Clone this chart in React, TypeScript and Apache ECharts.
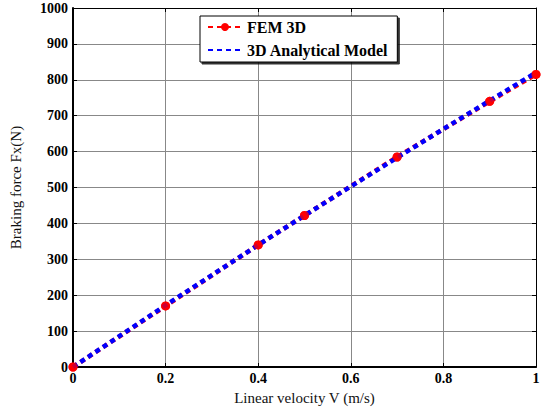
import React, { useEffect, useRef } from "react";
import * as echarts from "echarts";

const femX = [0, 0.2, 0.4, 0.5, 0.7, 0.9, 1.0];
const femY = [0, 170, 340, 422, 585, 740, 815];
const anaX = [0, 0.1, 0.2, 0.3, 0.4, 0.5, 0.6, 0.7, 0.8, 0.9, 1.0];
const anaY = [0, 86, 172, 256, 340, 422, 503, 583, 663, 742, 820];
const xTicks = [0, 0.2, 0.4, 0.6, 0.8, 1];
const seriesNames = ["FEM 3D", "3D Analytical Model"];

const FONT = "'Liberation Serif', 'Times New Roman', serif";

export default function App() {
  const ref = useRef<HTMLDivElement>(null);
  useEffect(() => {
    if (!ref.current) return;
    const chart = echarts.init(ref.current, null, { renderer: "svg" });
    const femData = femX.map((x, i) => [x, femY[i]]);
    const anaData = anaX.map((x, i) => [x, anaY[i]]);
    const labelStyle = { color: "#000", fontFamily: FONT, fontWeight: "bold" as const, fontSize: 14 };
    chart.setOption({
      animation: false,
      backgroundColor: "#fff",
      grid: { left: 71, right: 12, top: 8, bottom: 47, show: false },
      legend: {
        left: 200,
        top: 16,
        orient: "vertical",
        itemWidth: 34,
        itemHeight: 10,
        itemGap: 7,
        padding: [3, 9, 4, 7],
        borderColor: "#000",
        borderWidth: 1,
        backgroundColor: "#fff",
        shadowColor: "rgba(0,0,0,0.8)",
        shadowOffsetX: 2,
        shadowOffsetY: 2,
        shadowBlur: 0,
        textStyle: { color: "#000", fontFamily: FONT, fontWeight: "bold", fontSize: 16 },
        data: [
          { name: seriesNames[0] },
          { name: seriesNames[1], itemStyle: { opacity: 0 } },
        ],
      },
      xAxis: [
        {
          type: "value",
          min: 0,
          max: 1,
          interval: 0.2,
          name: "Linear velocity V (m/s)",
          nameLocation: "middle",
          nameGap: 23,
          nameTextStyle: { color: "#111", fontFamily: FONT, fontSize: 15 },
          axisLine: { show: true, lineStyle: { color: "#000", width: 2 } },
          axisTick: { show: true, inside: true, length: 4, lineStyle: { color: "#000" } },
          axisLabel: { ...labelStyle, margin: 4, formatter: (v: number) => String(xTicks.find((t) => Math.abs(t - v) < 1e-9) ?? v) },
          splitLine: { show: true, lineStyle: { color: "#888", width: 1 } },
        },
        {
          type: "value",
          position: "top",
          min: 0,
          max: 1,
          interval: 0.2,
          axisLine: { show: true, onZero: false, lineStyle: { color: "#000", width: 1 } },
          axisTick: { show: true, inside: true, length: 4, lineStyle: { color: "#000" } },
          axisLabel: { show: false },
          splitLine: { show: false },
        },
      ],
      yAxis: [
        {
          type: "value",
          min: 0,
          max: 1000,
          interval: 100,
          name: "Braking force Fx(N)",
          nameLocation: "middle",
          nameGap: 50,
          nameTextStyle: { color: "#111", fontFamily: FONT, fontSize: 15 },
          axisLine: { show: true, lineStyle: { color: "#000", width: 2 } },
          axisTick: { show: true, inside: true, length: 4, lineStyle: { color: "#000" } },
          axisLabel: { ...labelStyle, margin: 5, formatter: (v: number) => String(v) },
          splitLine: { show: true, lineStyle: { color: "#888", width: 1 } },
        },
        {
          type: "value",
          position: "right",
          min: 0,
          max: 1000,
          interval: 100,
          axisLine: { show: true, onZero: false, lineStyle: { color: "#000", width: 1 } },
          axisTick: { show: true, inside: true, length: 4, lineStyle: { color: "#000" } },
          axisLabel: { show: false },
          splitLine: { show: false },
        },
      ],
      series: [
        {
          name: seriesNames[0],
          type: "line",
          data: femData,
          z: 2,
          symbol: "circle",
          symbolSize: 9,
          itemStyle: { color: "#ff0000" },
          lineStyle: { color: "#ff0000", width: 4.5, type: [5, 4] },
        },
        {
          name: seriesNames[1],
          type: "line",
          data: anaData,
          z: 3,
          symbol: "none",
          itemStyle: { color: "#0000ff" },
          lineStyle: { color: "#0000ff", width: 4.5, type: [5, 4] },
        },
        {
          name: "FEM markers",
          type: "scatter",
          data: femData,
          z: 4,
          symbol: "circle",
          symbolSize: 9,
          itemStyle: { color: "#ff0000" },
        },
      ],
    });
    return () => chart.dispose();
  }, []);
  return <div ref={ref} style={{ position: "absolute", left: 0, top: 0, width: 548, height: 414 }} />;
}
